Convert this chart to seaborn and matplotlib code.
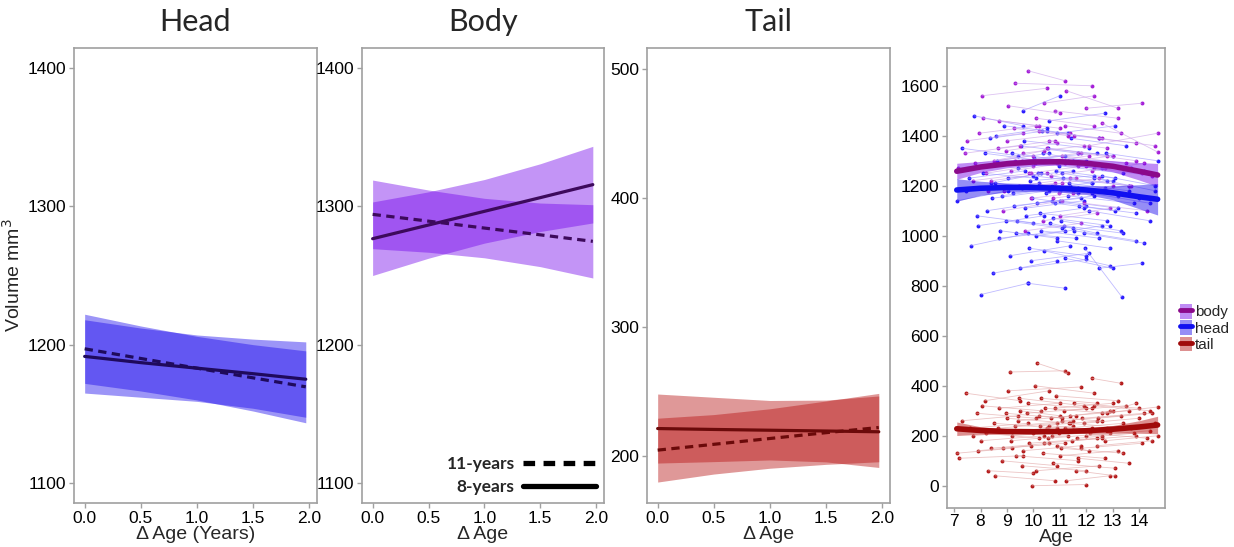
import numpy as np
import pandas as pd
import seaborn as sns
import matplotlib.pyplot as plt
from matplotlib.lines import Line2D
from matplotlib.patches import Patch

# ---- fitted lines, panels 1-3 (x = delta age in years) ----
delta_x = [0.0, 0.5, 1.0, 1.5, 1.97]

head_8_fit = [1191.5, 1187, 1183, 1179, 1175]
head_8_lo = [1165, 1162, 1159, 1154, 1147.5]
head_8_hi = [1218, 1212, 1207, 1204, 1202]
head_11_fit = [1197, 1190, 1183, 1176, 1169.5]
head_11_lo = [1172, 1166.5, 1160, 1152, 1143.5]
head_11_hi = [1222, 1213.5, 1206, 1200, 1195.5]

body_8_fit = [1276.6, 1286.5, 1296.4, 1306.3, 1315.7]
body_8_lo = [1250, 1262.5, 1273.4, 1281.8, 1288]
body_8_hi = [1303.2, 1310.5, 1319.4, 1330.8, 1343.4]
body_11_fit = [1294.2, 1289.3, 1284.3, 1279.4, 1274.7]
body_11_lo = [1269.4, 1266.8, 1262.8, 1256.4, 1248.2]
body_11_hi = [1319, 1311.8, 1305.8, 1302.4, 1301.2]

tail_8_fit = [221.6, 220.9, 220.3, 219.7, 219.1]
tail_8_lo = [194.9, 196, 197.3, 195.8, 191.5]
tail_8_hi = [248.3, 245.8, 243.3, 243.6, 246.8]
tail_11_fit = [204.9, 209.4, 213.9, 218.4, 222.4]
tail_11_lo = [180.2, 186.4, 190.9, 193.9, 195.9]
tail_11_hi = [229.6, 232.4, 236.9, 242.9, 248.8]

# ---- panel 4: subjects measured twice (age, volume) ----
head_age1 = [7.12, 7.30, 7.46, 7.62, 7.75, 7.90, 8.02, 8.10, 8.24, 8.35, 8.47, 8.55, 8.63, 8.71, 8.80,
             8.88, 8.95, 9.03, 9.10, 9.18, 9.26, 9.34, 9.41, 9.50, 9.57, 9.65, 9.72, 9.80, 9.88, 9.95,
             10.03, 10.10, 10.18, 10.25, 10.33, 10.40, 10.48, 10.56, 10.63, 10.71, 10.80, 10.88, 10.95,
             11.03, 11.12, 11.20, 11.30, 11.42, 11.55, 11.68, 11.80, 11.95, 12.10, 12.30, 12.50, 12.75,
             9.60, 10.60, 8.40, 10.90,
             7.55, 7.85, 8.15, 8.45, 8.75, 9.05, 9.22, 9.38, 9.52, 9.68, 9.84, 10.00, 10.14, 10.28, 10.44,
             10.58, 10.74, 10.86, 11.00, 11.16, 11.34, 11.50, 11.72, 11.90, 12.20, 12.60, 8.60, 9.90, 10.36, 11.08]
head_vol1 = [1140, 1350, 1180, 960, 1480, 1040, 765, 1250, 1100, 1390, 850, 1210, 1300, 990, 1160,
             1440, 1060, 1230, 920, 1330, 1120, 1010, 1270, 870, 1190, 1380, 1080, 810, 1220, 1150,
             1310, 1000, 1250, 1090, 1420, 940, 1170, 1350, 1050, 1200, 1130, 980, 1280,
             1060, 1230, 910, 1160, 1390, 1020, 1190, 1290, 950, 1100, 1230, 870, 1330,
             1500, 1460, 1210, 1410,
             1230, 1080, 1330, 1150, 1020, 1290, 1170, 1060, 1360, 1110, 950, 1240, 1130, 1020, 1300,
             1190, 1070, 1260, 1140, 1040, 1210, 1300, 1120, 1010, 1170, 1240, 1400, 900, 1330, 1250]
head_age2 = [9.05, 9.40, 10.2, 9.8, 9.6, 10.4, 9.8, 10.1, 10.7, 10.5, 10.9, 11.0, 10.6, 11.2, 10.9,
             11.3, 11.1, 11.5, 11.4, 11.2, 11.8, 11.6, 11.3, 12.0, 11.7, 12.1, 11.9, 11.2, 12.3, 12.0,
             12.4, 12.6, 12.2, 12.8, 12.5, 12.9, 12.7, 13.0, 12.4, 13.2, 13.1, 12.9, 13.4,
             13.3, 13.6, 13.0, 13.8, 13.5, 13.9, 14.0, 14.2, 13.35, 14.4, 14.6, 14.1, 14.7,
             11.0, 12.7, 10.3, 13.1,
             9.7, 10.0, 10.3, 10.6, 10.9, 11.2, 11.4, 11.5, 11.7, 11.9, 12.0, 12.2, 12.3, 12.5, 12.6,
             12.8, 12.9, 13.1, 13.2, 13.4, 13.6, 13.7, 13.9, 14.2, 14.4, 14.6, 10.5, 12.1, 12.0, 13.0]
head_vol2 = [1180, 1320, 1210, 1010, 1440, 1080, 810, 1230, 1140, 1420, 900, 1180, 1330, 1020, 1190,
             1410, 1030, 1260, 960, 1300, 1150, 990, 1300, 905, 1170, 1350, 1110, 790, 1240, 1120,
             1330, 1040, 1210, 1060, 1390, 880, 1190, 1320, 1010, 1160, 1100, 950, 1250,
             1020, 1200, 870, 1130, 1360, 980, 1150, 1260, 755, 1060, 1180, 890, 1300,
             1560, 1490, 1250, 1440,
             1260, 1050, 1300, 1180, 990, 1320, 1200, 1030, 1330, 1140, 920, 1210, 1160, 990, 1270,
             1220, 1040, 1230, 1110, 1010, 1180, 1270, 1090, 970, 1130, 1200, 1430, 930, 1300, 1220]

body_age1 = [7.15, 7.40, 7.70, 7.95, 8.05, 8.30, 8.50, 8.70, 8.85, 9.00, 9.15, 9.30, 9.45, 9.60, 9.80,
             9.90, 10.05, 10.20, 10.35, 10.50, 10.65, 10.80, 10.95, 11.10, 11.25, 11.40, 11.55, 11.70,
             11.90, 12.10, 12.30, 12.60, 8.20, 9.70, 10.40, 11.00, 12.00, 8.95,
             7.50, 7.80, 8.10, 8.40, 8.65, 8.90, 9.25, 9.55, 9.85, 10.10,
             10.30, 10.60, 10.90, 11.20, 11.50, 11.80, 12.20, 12.50, 9.05, 10.75]
body_vol1 = [1270, 1330, 1220, 1410, 1560, 1180, 1300, 1460, 1100, 1380, 1260, 1610, 1200, 1330, 1660,
             1150, 1290, 1420, 1060, 1350, 1240, 1500, 1170, 1320, 1580, 1230, 1400, 1280,
             1130, 1360, 1270, 1450, 1250, 1020, 1530, 1080, 1510, 1340,
             1380, 1290, 1470, 1220, 1350, 1180, 1430, 1300, 1250, 1470,
             1200, 1380, 1290, 1440, 1170, 1330, 1260, 1390, 1520, 1150]
body_age2 = [9.3, 9.5, 9.9, 10.2, 10.5, 10.8, 10.4, 11.0, 11.1, 11.4, 11.2, 12.2, 11.6, 11.9, 11.2,
             12.3, 12.1, 12.6, 12.4, 12.8, 12.7, 13.2, 13.0, 13.5, 13.2, 13.7, 13.9, 14.1,
             14.3, 14.7, 14.5, 14.7, 10.0, 11.8, 12.3, 12.9, 14.1, 10.9,
             9.6, 10.0, 10.1, 10.5, 10.8, 11.1, 11.3, 11.7, 12.0, 12.3,
             12.5, 12.8, 13.0, 13.3, 13.6, 13.9, 14.2, 14.6, 11.0, 12.8]
body_vol2 = [1300, 1360, 1250, 1440, 1590, 1210, 1340, 1430, 1140, 1410, 1290, 1600, 1230, 1360, 1620,
             1180, 1320, 1390, 1090, 1320, 1270, 1470, 1200, 1290, 1510, 1200, 1370, 1250,
             1100, 1410, 1240, 1335, 1280, 1050, 1560, 1110, 1530, 1370,
             1410, 1320, 1440, 1250, 1380, 1210, 1400, 1330, 1280, 1440,
             1230, 1350, 1320, 1410, 1200, 1300, 1290, 1360, 1490, 1180]

tail_age1 = [7.10, 7.20, 7.45, 7.60, 7.85, 8.00, 8.15, 8.30, 8.50, 8.55, 8.70, 8.85, 9.00, 9.10, 9.20,
             9.35, 9.45, 9.55, 9.65, 9.75, 9.85, 9.95, 10.05, 10.15, 10.25, 10.35, 10.45, 10.55, 10.65,
             10.75, 10.85, 10.95, 11.05, 11.15, 11.25, 11.35, 11.45, 11.55, 11.70, 11.85, 12.00, 12.20,
             12.40, 12.60, 12.80, 8.20, 9.05, 10.10, 10.90, 7.90, 9.50, 10.50, 11.60, 12.90,
             7.30, 7.70, 8.05, 8.40, 8.65, 8.95, 9.15, 9.40, 9.60, 9.80, 10.00, 10.20, 10.40, 10.60, 10.80,
             11.00, 11.20, 11.40, 11.65, 11.90, 12.15, 12.45, 12.70, 8.80, 9.30, 10.30, 10.70, 11.10, 11.80, 12.30]
tail_vol1 = [130, 110, 370, 230, 290, 180, 340, 60, 250, 40, 310, 150, 270, 455, 200,
             120, 350, 80, 220, 290, 170, 0, 400, 490, 240, 130, 310, 190, 270,
             90, 360, 210, 150, 300, 20, 250, 180, 330, 110, 270, 200, 430,
             160, 290, 230, 210, 380, 60, 160, 140, 300, 230, 60, 300,
             260, 200, 320, 150, 230, 290, 180, 260, 140, 330, 210, 280, 170, 240, 310,
             120, 230, 280, 190, 250, 210, 270, 180, 100, 240, 350, 200, 260, 150, 320]
tail_age2 = [9.2, 9.6, 9.5, 9.8, 10.1, 10.4, 10.6, 10.0, 10.9, 10.8, 11.0, 11.2, 11.4, 11.2, 11.6,
             11.7, 11.9, 12.0, 11.5, 12.2, 12.4, 12.0, 12.3, 11.3, 12.6, 12.7, 12.8, 12.9, 13.0,
             13.1, 13.2, 13.3, 13.4, 13.5, 12.9, 13.7, 13.9, 14.0, 13.6, 14.2, 14.4, 13.3,
             14.5, 14.7, 14.6, 10.2, 11.8, 12.5, 12.1, 9.9, 11.0, 12.6, 13.1, 13.9,
             9.4, 9.9, 10.3, 10.6, 10.9, 11.1, 11.3, 11.6, 11.8, 12.0, 12.2, 12.4, 12.6, 12.8, 13.0,
             13.2, 13.4, 13.6, 13.8, 14.0, 14.3, 14.5, 14.7, 10.9, 11.5, 12.4, 12.9, 13.3, 14.1, 14.4]
tail_vol2 = [150, 120, 340, 250, 270, 200, 380, 50, 230, 20, 330, 170, 250, 460, 220,
             100, 320, 60, 240, 310, 190, 5, 370, 450, 260, 110, 290, 210, 300,
             70, 340, 230, 130, 320, 40, 230, 200, 310, 90, 290, 220, 410,
             180, 315, 250, 190, 395, 80, 140, 160, 280, 200, 40, 330,
             280, 220, 300, 170, 250, 270, 200, 280, 160, 310, 230, 260, 190, 220, 330,
             140, 250, 300, 210, 270, 190, 290, 200, 80, 260, 330, 220, 280, 170, 300]

# ---- panel 4: smooth fits ----
age_x = [7.1, 8, 9, 10, 11, 12, 13, 14, 14.7]
body_fit = [1258, 1275, 1288, 1295, 1296, 1290, 1278, 1258, 1243]
body_hw = [32, 22, 16, 14, 14, 16, 22, 35, 46]
head_fit = [1183, 1190, 1193, 1193, 1190, 1183, 1172, 1156, 1146]
head_hw = [45, 28, 18, 15, 15, 18, 28, 48, 63]
tail_fit = [228, 221, 217, 216, 217, 220, 226, 235, 243]
tail_hw = [27, 15, 10, 8, 8, 10, 15, 25, 35]

sns.set_theme(style="white")
plt.rcParams['font.family'] = ['Liberation Sans', 'DejaVu Sans']

fig = plt.figure(figsize=(12.34, 5.47), dpi=100)
W, H = 1234, 547


def add_ax(l, r, t, b):
    return fig.add_axes([l / W, (H - b) / H, (r - l) / W, (b - t) / H])


spine_col = '#a0a0a0'


def style_ax(ax):
    for s in ax.spines.values():
        s.set_color(spine_col)
        s.set_linewidth(1.2)
    ax.tick_params(axis='both', which='major', direction='out', length=3.5, width=1,
                   color=spine_col, labelsize=12.5, labelcolor='black', pad=2,
                   bottom=True, left=True)


panels = [
    ("Head", (74, 317), head_8_fit, head_8_lo, head_8_hi, head_11_fit, head_11_lo, head_11_hi,
     '#1502ec', '#1f0a5c', (1085.5, 1414.5), [1100, 1200, 1300, 1400], "Δ Age (Years)"),
    ("Body", (362, 604), body_8_fit, body_8_lo, body_8_hi, body_11_fit, body_11_lo, body_11_hi,
     '#7100eb', '#3d0a5c', (1085.5, 1414.5), [1100, 1200, 1300, 1400], "Δ Age"),
    ("Tail", (647, 890), tail_8_fit, tail_8_lo, tail_8_hi, tail_11_fit, tail_11_lo, tail_11_hi,
     '#b50a0a', '#6b0a0a', (164, 516), [200, 300, 400, 500], "Δ Age"),
]

axes = []
for (title, (l, r), f8, lo8, hi8, f11, lo11, hi11, band_col, line_col, ylim, yt, xlab) in panels:
    ax = add_ax(l, r, 48, 503)
    ax.fill_between(delta_x, lo8, hi8, color=band_col, alpha=0.42, lw=0)
    ax.fill_between(delta_x, lo11, hi11, color=band_col, alpha=0.42, lw=0)
    d = pd.DataFrame({"x": delta_x + delta_x,
                      "y": f8 + f11,
                      "grp": ["8-years"] * len(delta_x) + ["11-years"] * len(delta_x)})
    sns.lineplot(data=d, x="x", y="y", style="grp", style_order=["8-years", "11-years"],
                 dashes={"8-years": "", "11-years": (2.6, 1.7)}, color=line_col,
                 lw=2.3, legend=False, ax=ax)
    ax.set_xlim(-0.095, 2.07)
    ax.set_ylim(*ylim)
    ax.set_xticks([0, 0.5, 1.0, 1.5, 2.0])
    ax.set_xticklabels(["0.0", "0.5", "1.0", "1.5", "2.0"])
    ax.set_yticks(yt)
    ax.set_xlabel(xlab, fontsize=14, labelpad=0)
    ax.set_ylabel("")
    ax.set_title(title, fontsize=22, family=['Lato', 'DejaVu Sans'], pad=12)
    style_ax(ax)
    axes.append(ax)

axes[0].set_ylabel("Volume mm$^3$", fontsize=14, labelpad=3)

# legend for 8 / 11 years in the body panel
leg_handles = [Line2D([], [], color='black', lw=3.8, ls=(0, (2.2, 1.6))),
               Line2D([], [], color='black', lw=3.8)]
axes[1].legend(leg_handles, ["11-years", "8-years"], loc='lower right', frameon=False,
               markerfirst=False, handlelength=4.2, handletextpad=0.5, labelspacing=0.4,
               borderaxespad=0.05, prop={'family': 'Lato', 'weight': 'bold', 'size': 12.5})

# ---- panel 4 ----
ax4 = add_ax(947, 1165, 48, 508)


def long_df(a1, v1, a2, v2, name):
    n = len(a1)
    return pd.DataFrame({"id": list(range(n)) * 2, "age": a1 + a2, "vol": v1 + v2, "part": name})


groups = [
    (long_df(head_age1, head_vol1, head_age2, head_vol2, "head"), '#2b1cff', '#9d96ff'),
    (long_df(body_age1, body_vol1, body_age2, body_vol2, "body"), '#a51fd8', '#cba2ea'),
    (long_df(tail_age1, tail_vol1, tail_age2, tail_vol2, "tail"), '#b51c1c', '#e2a6a6'),
]
for gdf, pcol, lcol in groups:
    sns.lineplot(data=gdf, x="age", y="vol", units="id", estimator=None, color=lcol,
                 lw=0.6, alpha=0.65, legend=False, ax=ax4)
    sns.scatterplot(data=gdf, x="age", y="vol", color=pcol, s=8, linewidth=0, ax=ax4, legend=False)

fits = [("body", body_fit, body_hw, '#7100eb', '#8b0a8b'),
        ("head", head_fit, head_hw, '#1502ec', '#1010f0'),
        ("tail", tail_fit, tail_hw, '#b50a0a', '#a00a0a')]
leg4 = []
for name, fit, hw, bcol, lcol in fits:
    lo = [f - h for f, h in zip(fit, hw)]
    hi = [f + h for f, h in zip(fit, hw)]
    ax4.fill_between(age_x, lo, hi, color=bcol, alpha=0.45, lw=0, zorder=5)
    sns.lineplot(x=age_x, y=fit, color=lcol, lw=4, ax=ax4, zorder=6)
    leg4.append((Patch(facecolor=bcol, alpha=0.45, lw=0), Line2D([], [], color=lcol, lw=3.5)))

ax4.set_xlim(6.73, 14.98)
ax4.set_ylim(-89, 1751)
ax4.set_xticks(range(7, 15))
ax4.set_yticks(range(0, 1601, 200))
ax4.set_xlabel("Age", fontsize=14, labelpad=0)
ax4.set_ylabel("")
style_ax(ax4)
ax4.tick_params(axis='x', labelsize=12.5, pad=1, length=3)

fig.legend(leg4, ["body", "head", "tail"], loc='center left', bbox_to_anchor=(1172 / W, 1 - 328 / H),
           frameon=False, handlelength=0.8, handleheight=1.1, handletextpad=0.2, labelspacing=0.05,
           borderpad=0, fontsize=11)

fig.savefig("out.png", dpi=100)
